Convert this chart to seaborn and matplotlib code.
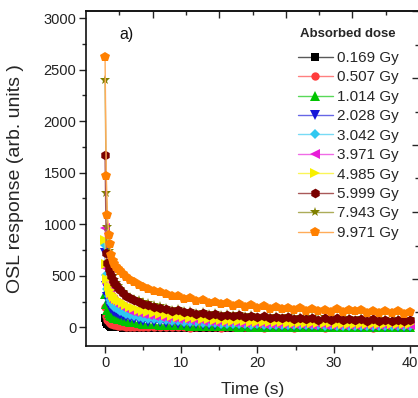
import numpy as np
import pandas as pd
import seaborn as sns
import matplotlib
matplotlib.use("Agg")
import matplotlib.pyplot as plt
from matplotlib.ticker import FixedLocator, MultipleLocator
from matplotlib.colors import to_rgb

# ---------------- data ----------------
TIME = [0, 0.16, 0.32, 0.48, 0.64, 0.8, 1.0, 1.2, 1.4, 1.7, 2.0, 2.4, 2.8, 3.3, 3.8, 4.4,
        5.0, 5.7, 6.4, 7.2, 8.0, 8.8, 9.6, 10.4, 11.2, 12.0, 12.8, 13.6, 14.4, 15.2, 16.0,
        16.8, 17.6, 18.4, 19.2, 20.0, 20.8, 21.6, 22.4, 23.2, 24.0, 24.8, 25.6, 26.4, 27.2,
        28.0, 28.8, 29.6, 30.4, 31.2, 32.0, 32.8, 33.6, 34.4, 35.2, 36.0, 36.8, 37.6, 38.4,
        39.2, 40.0]

LABELS = ["0.169 Gy", "0.507 Gy", "1.014 Gy", "2.028 Gy", "3.042 Gy",
          "3.971 Gy", "4.985 Gy", "5.999 Gy", "7.943 Gy", "9.971 Gy"]

D0169 = [95, 50, 30, 18, 12, 8, 5, 3, 1, 0, -1, -3, -4, -5, -6, -6, -7, -7, -8, -8,
         -8, -6, -9, -7, -10, -8, -6, -9, -7, -10, -8, -6, -9, -7, -8, -10, -6, -9, -7, -8,
         -10, -6, -9, -7, -8, -10, -6, -9, -7, -8, -10, -6, -9, -7, -8, -10, -6, -9, -7, -8, -9]
D0507 = [195, 110, 70, 50, 40, 33, 28, 23, 19, 16, 13, 10, 8, 6, 5, 4, 3, 2, 2, 1,
         1, -1, 2, 0, -2, 1, -1, 2, 0, -2, 1, -1, 2, 0, -1, 1, -2, 2, 0, -1,
         1, -2, 1, 0, -1, 2, -2, 1, 0, -1, 2, -1, 0, 1, -2, 1, -1, 2, 0, -1, 1]
D1014 = [320, 230, 170, 140, 121, 110, 100, 94, 89, 83, 77, 69, 61, 54, 48, 42, 37, 33, 29, 26,
         24, 22, 19, 19, 16, 16, 13, 14, 11, 12, 10, 10, 8, 9, 7, 8, 6, 7, 6, 7,
         5, 6, 4, 6, 4, 5, 3, 5, 3, 4, 3, 4, 2, 4, 2, 3, 2, 3, 1, 3, 2]
D2028 = [725, 400, 290, 232, 196, 176, 160, 149, 139, 129, 119, 107, 96, 86, 77, 69, 62, 56, 51, 47,
         43, 41, 36, 35, 31, 31, 27, 27, 24, 24, 21, 22, 19, 20, 17, 18, 15, 17, 14, 15,
         13, 14, 12, 13, 11, 12, 10, 12, 9, 11, 9, 10, 8, 10, 8, 9, 7, 9, 7, 8, 6]
D3042 = [800, 510, 370, 300, 262, 236, 216, 200, 187, 174, 161, 147, 134, 121, 111, 101, 93, 85, 79, 73,
         67, 63, 57, 55, 49, 47, 43, 42, 38, 37, 34, 34, 30, 31, 27, 28, 25, 26, 23, 24,
         21, 22, 19, 21, 18, 19, 17, 18, 15, 17, 14, 16, 13, 15, 13, 14, 12, 13, 11, 12, 11]
D3971 = [960, 580, 420, 350, 312, 285, 265, 250, 236, 224, 210, 193, 177, 162, 150, 138, 128, 118, 110, 102,
         94, 89, 81, 77, 70, 67, 61, 59, 54, 53, 48, 47, 43, 43, 39, 39, 36, 36, 33, 34,
         31, 32, 29, 30, 27, 28, 25, 27, 24, 25, 22, 24, 21, 23, 20, 22, 19, 21, 18, 20, 18]
D4985 = [850, 610, 470, 400, 360, 330, 310, 292, 278, 265, 252, 232, 214, 198, 184, 170, 158, 148, 138, 128,
         118, 112, 104, 99, 91, 87, 81, 79, 73, 71, 66, 65, 60, 59, 55, 55, 51, 51, 48, 48,
         45, 45, 42, 43, 40, 41, 38, 39, 36, 37, 35, 36, 33, 34, 32, 33, 30, 32, 29, 31, 28]
D5999 = [1670, 725, 620, 565, 535, 500, 462, 432, 408, 385, 362, 332, 305, 282, 264, 246, 230, 216, 202, 190,
         182, 160, 166, 144, 152, 132, 140, 122, 132, 114, 124, 108, 118, 100, 112, 96, 106, 90, 102, 86,
         98, 82, 94, 78, 92, 76, 88, 72, 86, 70, 84, 68, 80, 66, 78, 62, 76, 60, 74, 58, 70]
D7943 = [2400, 1300, 970, 745, 640, 560, 500, 460, 430, 400, 372, 340, 318, 296, 278, 262, 248, 234, 220, 206,
         190, 172, 176, 156, 162, 142, 150, 132, 140, 124, 132, 118, 126, 110, 120, 104, 114, 98, 110, 94,
         106, 90, 102, 86, 98, 84, 96, 80, 94, 78, 90, 76, 88, 74, 86, 72, 84, 70, 82, 68, 80]
D9971 = [2620, 1470, 1090, 900, 810, 700, 640, 610, 585, 565, 545, 515, 490, 462, 440, 415, 395, 372, 355, 338,
         322, 300, 306, 276, 284, 252, 266, 236, 246, 224, 238, 206, 228, 200, 212, 190, 208, 178, 196, 176,
         192, 164, 184, 160, 174, 158, 170, 150, 176, 148, 168, 156, 172, 142, 160, 138, 156, 140, 158, 132, 150]

SERIES = [D0169, D0507, D1014, D2028, D3042, D3971, D4985, D5999, D7943, D9971]

COLORS = ["#000000", "#FF3C3C", "#00C400", "#1414D8", "#30C8F0",
          "#E81CD8", "#F8F000", "#7A0000", "#808000", "#FF8000"]
MARKERS = ["s", "o", "^", "v", "D", "<", ">", "h", "*", "p"]
MSIZES = [5.5, 6, 6.5, 6.5, 5.5, 6.5, 6.5, 7, 7, 7.5]
DRAW_ORDER = [0, 1, 2, 3, 4, 5, 6, 8, 7, 9]   # star series sits beneath the 5.999 Gy series

# ---------------- figure ----------------
sns.set_theme(style="ticks")
plt.rcParams["font.family"] = ["Liberation Sans", "DejaVu Sans"]

W, H = 418, 398
fig = plt.figure(figsize=(W / 100, H / 100), dpi=100)
ax = fig.add_axes([86 / W, 52 / H, 333 / W, 335 / H])

handles = {}
for i in DRAW_ORDER:
    lab, vals, col, mk, ms = LABELS[i], SERIES[i], COLORS[i], MARKERS[i], MSIZES[i]
    df = pd.DataFrame({"t": TIME, "v": vals})
    n_before = len(ax.lines)
    sns.lineplot(data=df, x="t", y="v", ax=ax, color=col, marker=mk, markersize=ms,
                 markeredgewidth=0, linewidth=1.0, estimator=None, sort=False)
    line = ax.lines[n_before]
    rgb = np.array(to_rgb(col))
    line.set_color(tuple(rgb + (1 - rgb) * 0.35))
    line.set_markerfacecolor(col)
    line.set_markeredgecolor(col)
    handles[i] = line

XMIN, XMAX = -2.5, 41.2
YMIN, YMAX = -181, 3068
ax.set_xlim(XMIN, XMAX)
ax.set_ylim(YMIN, YMAX)
ax.set_xticks([0, 10, 20, 30, 40])
ax.xaxis.set_minor_locator(MultipleLocator(5))
ax.set_yticks([0, 500, 1000, 1500, 2000, 2500, 3000])
ax.yaxis.set_minor_locator(MultipleLocator(250))
ax.tick_params(which="major", direction="out", length=5, width=1, labelsize=10.5,
               colors="#222222", pad=2)
ax.tick_params(which="minor", direction="out", length=3, width=1)
for sp in ax.spines.values():
    sp.set_visible(True)
    sp.set_color("#111111")
    sp.set_linewidth(1.2)

ax.set_xlabel("Time (s)", fontsize=12.5, labelpad=9)
ax.set_ylabel("OSL response (arb. units )", fontsize=14, labelpad=14)

# mirror axes (top/right) with inward ticks at tenths of the frame
secx = ax.secondary_xaxis("top", functions=(lambda x: (x - XMIN) / (XMAX - XMIN),
                                            lambda f: XMIN + f * (XMAX - XMIN)))
secx.set_xticks([0.2, 0.4, 0.6, 0.8, 1.0])
secx.xaxis.set_minor_locator(FixedLocator([0.1, 0.3, 0.5, 0.7, 0.9]))
secx.tick_params(which="major", direction="in", length=5, width=1, labeltop=False)
secx.tick_params(which="minor", direction="in", length=3, width=1)
secx.spines["top"].set_linewidth(1.2)

secy = ax.secondary_yaxis("right", functions=(lambda y: (y - YMIN) / (YMAX - YMIN),
                                              lambda f: YMIN + f * (YMAX - YMIN)))
secy.set_yticks([0.2, 0.4, 0.6, 0.8, 1.0])
secy.yaxis.set_minor_locator(FixedLocator([0.1, 0.3, 0.5, 0.7, 0.9]))
secy.tick_params(which="major", direction="in", length=5, width=1, labelright=False)
secy.tick_params(which="minor", direction="in", length=3, width=1)
secy.spines["right"].set_linewidth(1.2)

ax.text((126 - 86) / 333, (346.7 - 35) / 335.7, "a)", transform=ax.transAxes,
        fontsize=11.5, ha="center", va="center", color="#111111")

leg = ax.legend([handles[i] for i in range(10)], LABELS,
                title="Absorbed dose", frameon=False, loc="upper right",
                bbox_to_anchor=((399 - 86) / 333, (346.7 - 28) / 335.7),
                fontsize=11, title_fontproperties={"weight": "bold", "size": 9.5},
                handlelength=2.3, handletextpad=0.3, labelspacing=0.355,
                borderpad=0, borderaxespad=0)
leg._legend_box.sep = 8

fig.savefig("out.png", dpi=100)
